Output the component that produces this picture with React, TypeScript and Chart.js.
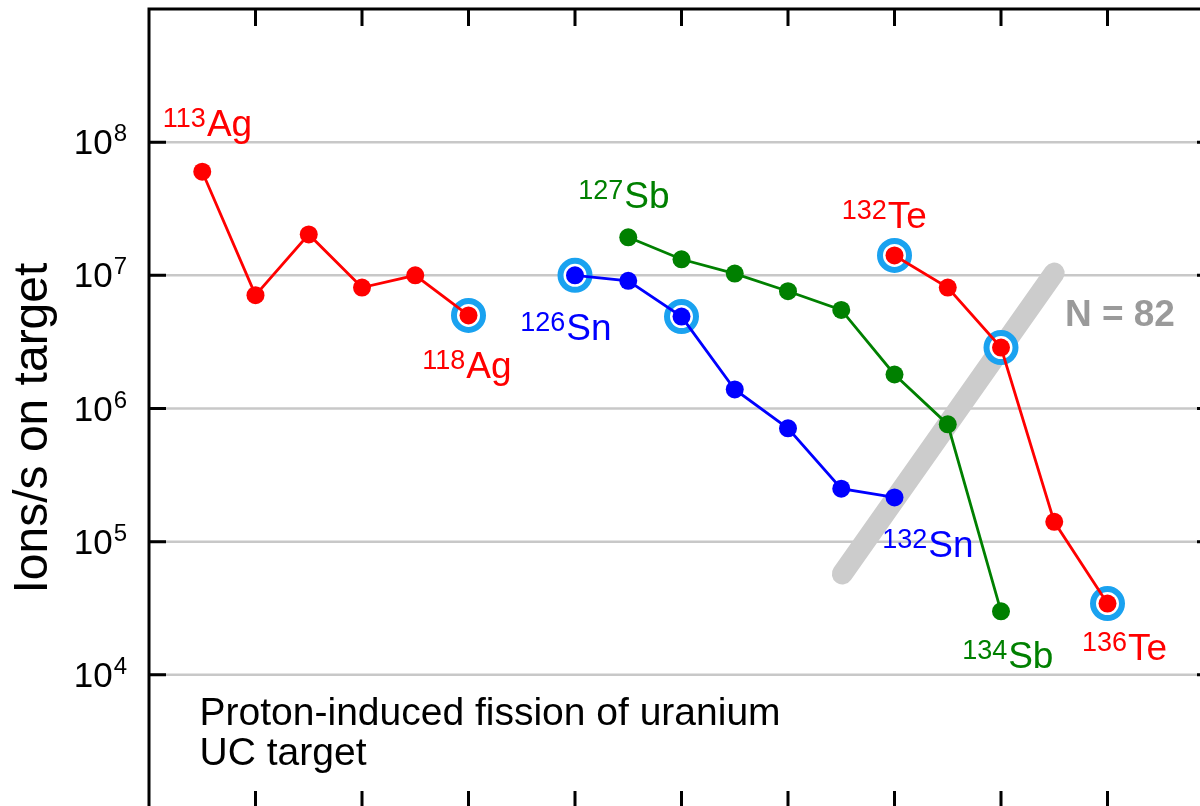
import React, { useEffect, useRef } from "react";
import { Chart, registerables } from "chart.js";

Chart.register(...registerables);

// ---------- data ----------
const agMass = [113, 114, 115, 116, 117, 118];
const agRate = [6.0e7, 7.1e6, 2.03e7, 8.1e6, 1.0e7, 5.0e6];
const AG_SHIFT = 6; // Ag chain is drawn shifted along the horizontal axis

const snMass = [126, 127, 128, 129, 130, 131, 132];
const snRate = [1.0e7, 9.1e6, 4.9e6, 1.39e6, 7.1e5, 2.5e5, 2.15e5];

const sbMass = [127, 128, 129, 130, 131, 132, 133, 134];
const sbRate = [1.93e7, 1.32e7, 1.03e7, 7.6e6, 5.5e6, 1.8e6, 7.6e5, 3.0e4];

const teMass = [132, 133, 134, 135, 136];
const teRate = [1.41e7, 8.1e6, 2.87e6, 1.41e5, 3.43e4];

const highlightAg = [118];
const highlightSn = [126, 128];
const highlightTe = [132, 134, 136];

const yTickValues = [1e4, 1e5, 1e6, 1e7, 1e8];
const yTickExponents = ["4", "5", "6", "7", "8"];
const xTickValues = [120, 122, 124, 126, 128, 130, 132, 134, 136];

const n82X = [131.02, 135.0];
const n82Y = [5.73e4, 1.04e7];

const nuclideLabels = [
  { sup: "113", el: "Ag", color: "#ff0000", x: 118.26, y: 1.12e8 },
  { sup: "118", el: "Ag", color: "#ff0000", x: 123.13, y: 1.69e6 },
  { sup: "126", el: "Sn", color: "#0000ff", x: 124.97, y: 3.26e6 },
  { sup: "127", el: "Sb", color: "#008000", x: 126.06, y: 3.19e7 },
  { sup: "132", el: "Te", color: "#ff0000", x: 131.01, y: 2.26e7 },
  { sup: "132", el: "Sn", color: "#0000ff", x: 131.77, y: 7.7e4 },
  { sup: "134", el: "Sb", color: "#008000", x: 133.27, y: 1.13e4 },
  { sup: "136", el: "Te", color: "#ff0000", x: 135.52, y: 1.3e4 },
];
const n82Label = { text: "N = 82", x: 135.2, y: 4.16e6 };
const noteLines = ["Proton-induced fission of uranium", "UC target"];
const noteAnchor = { x: 118.95, y: 4.23e3 };
const yTitle = "Ions/s on target";

// ---------- helpers ----------
const FONT = "'Liberation Sans', Arial, Helvetica, sans-serif";
const RED = "#ff0000";
const BLUE = "#0000ff";
const GREEN = "#008000";
const RING = "#1aa2f0";

const toPts = (mass: number[], rate: number[], shift = 0) =>
  mass.map((m, i) => ({ x: m + shift, y: rate[i] }));

const ringPts = (mass: number[], rate: number[], marks: number[], shift = 0) =>
  marks.map((m) => ({ x: m + shift, y: rate[mass.indexOf(m)] }));

const seriesStyle = (color: string) => ({
  borderColor: color,
  backgroundColor: color,
  pointBackgroundColor: color,
  pointBorderColor: color,
  borderWidth: 2.8,
  pointRadius: 9,
  pointBorderWidth: 0,
  tension: 0,
  order: 0,
});

const decorPlugin = {
  id: "decor",
  beforeDatasetsDraw(chart: any) {
    const { ctx, chartArea: a, scales } = chart;
    const y = scales.y;
    ctx.save();
    ctx.strokeStyle = "#c8c8c8";
    ctx.lineWidth = 2.5;
    for (const v of yTickValues) {
      const py = y.getPixelForValue(v);
      ctx.beginPath();
      ctx.moveTo(a.left, py);
      ctx.lineTo(a.right, py);
      ctx.stroke();
    }
    ctx.restore();
  },
  afterDatasetsDraw(chart: any) {
    const { ctx, chartArea: a, scales } = chart;
    const x = scales.x;
    const y = scales.y;
    ctx.save();
    // frame
    ctx.strokeStyle = "#000";
    ctx.lineWidth = 3;
    ctx.lineCap = "butt";
    ctx.strokeRect(a.left, a.top, a.right - a.left, a.bottom - a.top);
    // ticks (inward)
    const TL = 17;
    for (const v of yTickValues) {
      const py = y.getPixelForValue(v);
      ctx.beginPath();
      ctx.moveTo(a.left, py);
      ctx.lineTo(a.left + TL, py);
      ctx.moveTo(a.right, py);
      ctx.lineTo(a.right - TL, py);
      ctx.stroke();
    }
    for (const v of xTickValues) {
      const px = x.getPixelForValue(v);
      ctx.beginPath();
      ctx.moveTo(px, a.top);
      ctx.lineTo(px, a.top + TL);
      ctx.moveTo(px, a.bottom);
      ctx.lineTo(px, a.bottom - TL);
      ctx.stroke();
    }
    // y tick labels
    ctx.fillStyle = "#000";
    ctx.textBaseline = "alphabetic";
    yTickValues.forEach((v, i) => {
      const py = y.getPixelForValue(v);
      const right = a.left - 22;
      ctx.font = `24px ${FONT}`;
      ctx.textAlign = "right";
      const sw = ctx.measureText(yTickExponents[i]).width;
      ctx.fillText(yTickExponents[i], right, py - 1);
      ctx.font = `35px ${FONT}`;
      ctx.fillText("10", right - sw - 1, py + 12);
    });
    // y title
    ctx.save();
    ctx.translate(47, (y.getPixelForValue(1e6) + y.getPixelForValue(1e5)) / 2 - 47);
    ctx.rotate(-Math.PI / 2);
    ctx.font = `48px ${FONT}`;
    ctx.textAlign = "center";
    ctx.fillStyle = "#000";
    ctx.fillText(yTitle, 0, 0);
    ctx.restore();
    // nuclide labels
    ctx.textAlign = "left";
    for (const l of nuclideLabels) {
      const px = x.getPixelForValue(l.x);
      const py = y.getPixelForValue(l.y);
      ctx.fillStyle = l.color;
      ctx.font = `27px ${FONT}`;
      ctx.fillText(l.sup, px, py - 9);
      const w = ctx.measureText(l.sup).width;
      ctx.font = `37px ${FONT}`;
      ctx.fillText(l.el, px + w + 1, py);
    }
    // N = 82
    ctx.fillStyle = "#9a9a9a";
    ctx.font = `bold 37px ${FONT}`;
    ctx.fillText(n82Label.text, x.getPixelForValue(n82Label.x), y.getPixelForValue(n82Label.y));
    // note
    ctx.fillStyle = "#000";
    ctx.font = `39px ${FONT}`;
    const nx = x.getPixelForValue(noteAnchor.x);
    const ny = y.getPixelForValue(noteAnchor.y);
    noteLines.forEach((t, i) => ctx.fillText(t, nx, ny + i * 40));
    ctx.restore();
  },
};

export default function App() {
  const ref = useRef<HTMLCanvasElement | null>(null);

  useEffect(() => {
    if (!ref.current) return;
    const chart = new Chart(ref.current, {
      type: "line",
      data: {
        datasets: [
          { label: "Ag", data: toPts(agMass, agRate, AG_SHIFT), ...seriesStyle(RED) },
          { label: "Sn", data: toPts(snMass, snRate), ...seriesStyle(BLUE) },
          { label: "Sb", data: toPts(sbMass, sbRate), ...seriesStyle(GREEN) },
          { label: "Te", data: toPts(teMass, teRate), ...seriesStyle(RED) },
          {
            label: "rings",
            data: [
              ...ringPts(agMass, agRate, highlightAg, AG_SHIFT),
              ...ringPts(snMass, snRate, highlightSn),
              ...ringPts(teMass, teRate, highlightTe),
            ],
            showLine: false,
            pointRadius: 14.5,
            pointBorderWidth: 6,
            pointBorderColor: RING,
            pointBackgroundColor: "#ffffff",
            order: 5,
          },
          {
            label: "N=82",
            data: n82X.map((v, i) => ({ x: v, y: n82Y[i] })),
            borderColor: "#cccccc",
            borderWidth: 21,
            borderCapStyle: "round",
            pointRadius: 0,
            order: 10,
          },
        ] as any,
      },
      options: {
        animation: false,
        responsive: false,
        events: [],
        layout: { autoPadding: false, padding: { left: 149, top: 9, right: 26, bottom: 22 } },
        plugins: { legend: { display: false }, tooltip: { enabled: false } },
        scales: {
          x: { type: "linear", min: 118, max: 138, display: false },
          y: { type: "logarithmic", min: 1e3, max: 1e9, display: false },
        },
      } as any,
      plugins: [decorPlugin],
    });
    return () => chart.destroy();
  }, []);

  return (
    <div
      style={{
        position: "fixed",
        left: 0,
        top: 0,
        width: 1200,
        height: 806,
        overflow: "hidden",
        background: "#fff",
      }}
    >
      <canvas ref={ref} width={1240} height={830} style={{ display: "block" }} />
    </div>
  );
}
